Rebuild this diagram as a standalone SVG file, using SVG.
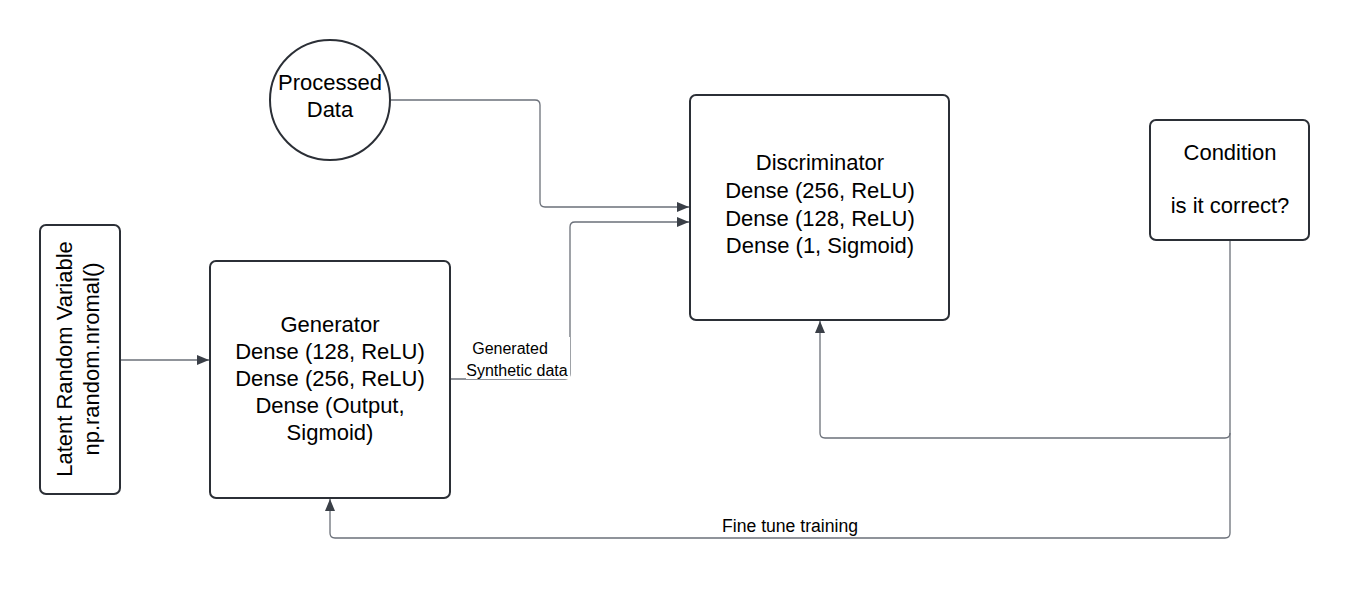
<svg xmlns="http://www.w3.org/2000/svg" width="1350" height="599" viewBox="0 0 1350 599">
<style>
.box{fill:#fff;stroke:#2b2f36;stroke-width:2}
.t{font-family:"Liberation Sans",Arial,sans-serif;font-size:22px;fill:#000;text-anchor:middle}
.s{font-family:"Liberation Sans",Arial,sans-serif;font-size:16px;fill:#000;text-anchor:middle}
.c{fill:none;stroke:#6b7079;stroke-width:1.3}
</style>
<defs>
<marker id="ah" viewBox="0 0 12 10" refX="12" refY="5" markerWidth="12" markerHeight="10" markerUnits="userSpaceOnUse" orient="auto">
<path d="M0,0 L12,5 L0,10 Z" fill="#3a3f47"/>
</marker>
</defs>
<rect width="1350" height="599" fill="#fff"/>
<g id="connectors">
<path class="c" d="M120,360 H209" marker-end="url(#ah)"/>
<path class="c" d="M391,100 H535 Q540,100 540,105 V202 Q540,207 545,207 H689" marker-end="url(#ah)"/>
<path class="c" d="M451,379 H565 Q570,379 570,374 V227 Q570,222 575,222 H689" marker-end="url(#ah)"/>
<path class="c" d="M1230,241 V433 Q1230,438 1225,438 H825 Q820,438 820,433 V321" marker-end="url(#ah)"/>
<path class="c" d="M1230,433 V533 Q1230,538 1225,538 H335 Q330,538 330,533 V499" marker-end="url(#ah)"/>
<g id="label-generated">
<rect x="466" y="337" width="104" height="42" fill="#fff"/>
<text class="s" x="510" y="354">Generated</text>
<text class="s" x="517" y="376">Synthetic data</text>
</g>
<text class="s" x="790" y="532" style="font-size:17.6px">Fine tune training</text>
</g>
<g id="latent">
<rect class="box" x="40" y="225" width="80" height="269" rx="6"/>
<text class="t" transform="translate(72,359) rotate(-90)">Latent Random Variable</text>
<text class="t" transform="translate(99,359) rotate(-90)">np.random.nromal()</text>
</g>
<g id="generator">
<rect class="box" x="210" y="261" width="240" height="237" rx="6"/>
<text class="t" x="330" y="332">Generator</text>
<text class="t" x="330" y="359">Dense (128, ReLU)</text>
<text class="t" x="330" y="386">Dense (256, ReLU)</text>
<text class="t" x="330" y="413">Dense (Output,</text>
<text class="t" x="330" y="440">Sigmoid)</text>
</g>
<g id="processed">
<circle class="box" cx="330" cy="100" r="60"/>
<text class="t" x="330" y="90">Processed</text>
<text class="t" x="330" y="117">Data</text>
</g>
<g id="discriminator">
<rect class="box" x="690" y="95" width="259" height="225" rx="6"/>
<text class="t" x="820" y="170">Discriminator</text>
<text class="t" x="820" y="198">Dense (256, ReLU)</text>
<text class="t" x="820" y="226">Dense (128, ReLU)</text>
<text class="t" x="820" y="253">Dense (1, Sigmoid)</text>
</g>
<g id="condition">
<rect class="box" x="1150" y="120" width="159" height="120" rx="6"/>
<text class="t" x="1230" y="160">Condition</text>
<text class="t" x="1230" y="213">is it correct?</text>
</g>
</svg>
